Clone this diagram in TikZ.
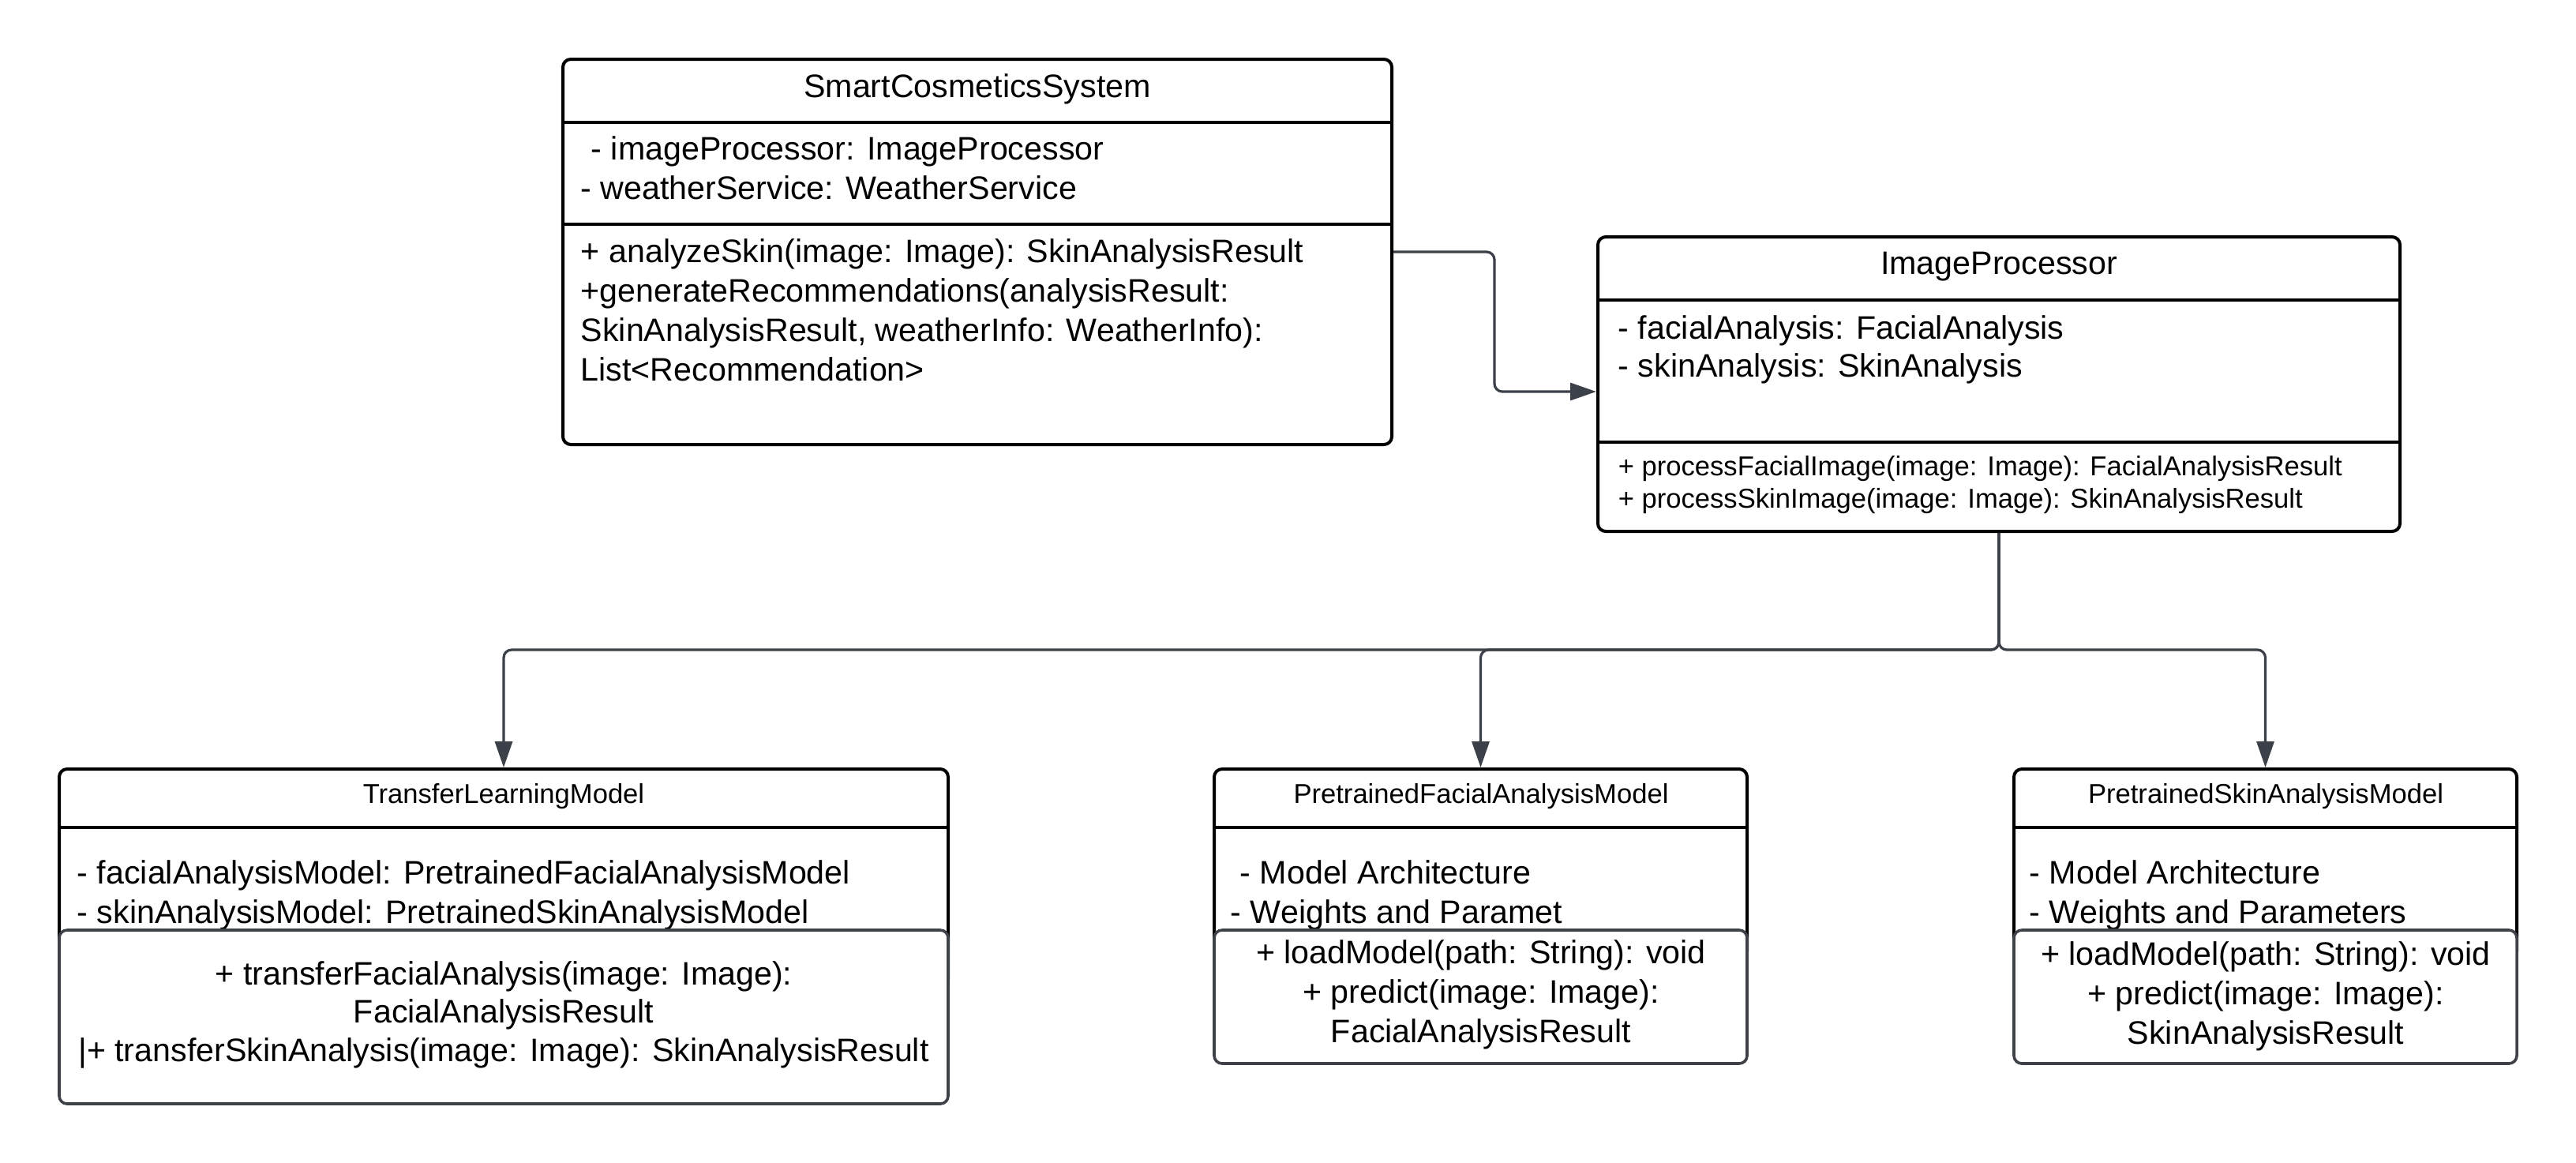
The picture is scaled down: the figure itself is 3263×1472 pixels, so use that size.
\documentclass[tikz,border=0pt]{standalone}
\usepackage{fontspec}
\setmainfont{Liberation Sans}
\usetikzlibrary{arrows.meta,fit}
\definecolor{conncol}{RGB}{59,64,73}
\definecolor{iboxcol}{RGB}{62,66,72}
\tikzset{
  box/.style={draw=black, line width=1pt, rounded corners=2.5pt, inner sep=0pt, fill=white},
  ibox/.style={draw=iboxcol, line width=0.9pt, rounded corners=2.5pt, inner sep=0pt, fill=white},
  divider/.style={draw=black, line width=1pt},
  big/.style={font=\fontsize{10.3}{12.5}\selectfont, inner sep=0pt},
  small/.style={font=\fontsize{8.65}{10.5}\selectfont, inner sep=0pt},
  conn/.style={draw=conncol, line width=0.8pt, rounded corners=2.5pt, -{Triangle[length=8.25pt,width=5.5pt]}}
}
\begin{document}
\begin{tikzpicture}[x=0.25pt,y=-0.25pt]
\fill[white] (0,0) rectangle (3263,1472);
\useasboundingbox (0,0) rectangle (3263,1472);

% ---------- SmartCosmeticsSystem ----------
\node[box, fit={(713,75) (1763,563)}] (scs) {};
\draw[divider] (713,155) -- (1763,155);
\draw[divider] (713,284) -- (1763,284);
\node[big, anchor=base] (scs-t) at (1238,123) {SmartCosmeticsSystem};
\node[big, anchor=base west] (scs-a1) at (748,202) {- imageProcessor: ImageProcessor};
\node[big, anchor=base west] (scs-a2) at (735,252) {- weatherService: WeatherService};
\node[big, anchor=base west] (scs-m1) at (735,332) {+ analyzeSkin(image: Image): SkinAnalysisResult};
\node[big, anchor=base west] (scs-m2) at (735,382) {+generateRecommendations(analysisResult:};
\node[big, anchor=base west] (scs-m3) at (735,432) {SkinAnalysisResult, weatherInfo: WeatherInfo):};
\node[big, anchor=base west] (scs-m4) at (735,482) {List<Recommendation>};

% ---------- ImageProcessor ----------
\node[box, fit={(2024,300) (3040,673)}] (ip) {};
\draw[divider] (2024,380) -- (3040,380);
\draw[divider] (2024,560) -- (3040,560);
\node[big, anchor=base] (ip-t) at (2532,347) {ImageProcessor};
\node[big, anchor=base west] (ip-a1) at (2049,429) {- facialAnalysis: FacialAnalysis};
\node[big, anchor=base west] (ip-a2) at (2049,477) {- skinAnalysis: SkinAnalysis};
\node[small, anchor=base west] (ip-m1) at (2049,602) {+ processFacialImage(image: Image): FacialAnalysisResult};
\node[small, anchor=base west] (ip-m2) at (2049,643) {+ processSkinImage(image: Image): SkinAnalysisResult};

% ---------- TransferLearningModel ----------
\node[box, fit={(75,974) (1201,1250)}] (tlm) {};
\draw[divider] (75,1048) -- (1201,1048);
\node[small, anchor=base] (tlm-t) at (638,1017) {TransferLearningModel};
\node[big, anchor=base west] (tlm-a1) at (97,1119) {- facialAnalysisModel: PretrainedFacialAnalysisModel};
\node[big, anchor=base west] (tlm-a2) at (97,1169) {- skinAnalysisModel: PretrainedSkinAnalysisModel};
\node[ibox, fit={(75,1178) (1201,1398)}] (tlm-mb) {};
\node[big, anchor=base] (tlm-m1) at (638,1247) {+ transferFacialAnalysis(image: Image):};
\node[big, anchor=base] (tlm-m2) at (638,1295) {FacialAnalysisResult};
\node[big, anchor=base] (tlm-m3) at (638,1344) {|+ transferSkinAnalysis(image: Image): SkinAnalysisResult};

% ---------- PretrainedFacialAnalysisModel ----------
\node[box, fit={(1538,974) (2213,1215)}] (pfam) {};
\draw[divider] (1538,1048) -- (2213,1048);
\node[small, anchor=base] (pfam-t) at (1876,1017) {PretrainedFacialAnalysisModel};
\node[big, anchor=base west] (pfam-a1) at (1570,1119) {- Model Architecture};
\node[big, anchor=base west] (pfam-a2) at (1558,1169) {- Weights and Paramet};
\node[ibox, fit={(1538,1178) (2213,1347)}] (pfam-mb) {};
\node[big, anchor=base] (pfam-m1) at (1876,1220) {+ loadModel(path: String): void};
\node[big, anchor=base] (pfam-m2) at (1876,1270) {+ predict(image: Image):};
\node[big, anchor=base] (pfam-m3) at (1876,1320) {FacialAnalysisResult};

% ---------- PretrainedSkinAnalysisModel ----------
\node[box, fit={(2551,974) (3188,1215)}] (psam) {};
\draw[divider] (2551,1048) -- (3188,1048);
\node[small, anchor=base] (psam-t) at (2870,1017) {PretrainedSkinAnalysisModel};
\node[big, anchor=base west] (psam-a1) at (2570,1119) {- Model Architecture};
\node[big, anchor=base west] (psam-a2) at (2570,1169) {- Weights and Parameters};
\node[ibox, fit={(2551,1178) (3188,1347)}] (psam-mb) {};
\node[big, anchor=base] (psam-m1) at (2870,1222) {+ loadModel(path: String): void};
\node[big, anchor=base] (psam-m2) at (2870,1272) {+ predict(image: Image):};
\node[big, anchor=base] (psam-m3) at (2870,1322) {SkinAnalysisResult};

% ---------- connectors ----------
\coordinate (sy) at (0,319);
\coordinate (ty) at (0,496);
\coordinate (jx) at (1893,0);
\coordinate (bus) at (0,823);
\draw[conn] (scs.east |- sy) -- (jx |- sy) -- (jx |- ty) -- (ip.west |- ty);
\draw[conn] (ip.south) -- (ip.south |- bus) -| (tlm.north);
\draw[conn] (ip.south) -- (ip.south |- bus) -| (pfam.north);
\draw[conn] (ip.south) -- (ip.south |- bus) -| (psam.north);
\end{tikzpicture}
\end{document}
